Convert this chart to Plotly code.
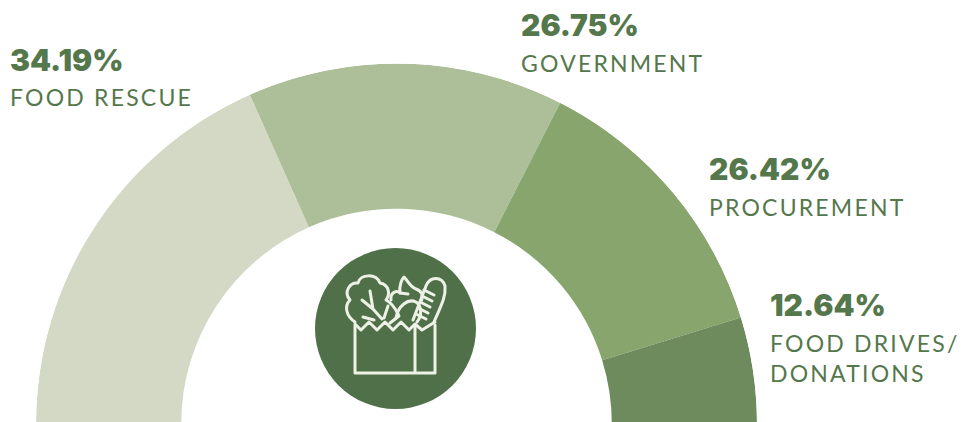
import base64
import plotly.graph_objects as go

# Labels printed on the chart
categories = ['FOOD RESCUE', 'GOVERNMENT', 'PROCUREMENT', 'FOOD DRIVES/<br>DONATIONS']
shares = ['34.19%', '26.75%', '26.42%', '12.64%']
arc_degrees = [66.0, 51.0, 45.8, 17.2]
colors = ['#d3d9c5', '#adbf98', '#88a56e', '#6d8b5d']

GREEN = '#55774c'
WIDTH, HEIGHT = 975, 424

# Running start of each band, then mid angle (polar angle runs from the right end)
starts = [sum(arc_degrees[:i]) for i in range(len(arc_degrees))]
theta = [180 - s - a / 2 for s, a in zip(starts, arc_degrees)]

fig = go.Figure(go.Barpolar(
    theta=theta,
    width=arc_degrees,
    r=[145] * len(arc_degrees),
    base=215,
    marker=dict(color=colors, line=dict(width=0)),
    hoverinfo='skip',
))

# Grocery bag icon
icon = '''<svg xmlns="http://www.w3.org/2000/svg" viewBox="0 0 190 190">
<circle cx="95.5" cy="88.5" r="80.5" fill="#4f7048"/>
<g fill="none" stroke="#eef2e6" stroke-width="3" stroke-linejoin="round" stroke-linecap="round">
<path d="M55 85 V133 H135 V85 M115 85 V133"/>
<path d="M55 84 L61 90 L69 82 L77 90 L85 82 L93 90 L101 82 L109 90 L115 84 L122 90 L135 82"/>
<path d="M55 82 C46 76 44 66 50 60 C43 52 50 42 58 43 C60 34 76 33 80 43 C90 45 90 55 86 60 C94 64 97 72 99 76 L90 83"/>
<path d="M62 60 L73 69 L82 79 M70 51 L73 69 M63 77 L74 80 M88 66 L84 78"/>
<path d="M91 60 C90 52 97 50 100 53 C99 45 102 39 104 37 C108 41 110 47 116 49 C122 51 124 56 121 61"/>
<path d="M100 53 L108 54 M96 78 C98 66 108 58 116 62 C122 66 122 76 117 82"/>
<path d="M113 80 L126 46 C130 36 142 36 145 46 C146 56 142 64 134 82"/>
<path d="M124 50 L134 55 M122 56 L132 61 M120 62 L130 67 M118 68 L128 73 M116 74 L126 79"/>
</g></svg>'''
icon_src = 'data:image/svg+xml;base64,' + base64.b64encode(icon.encode()).decode()

label_x = [8, 519, 707, 768]
share_y = [60, 25, 169, 305]
name_y = [97, 63, 207, 358]


def px(x):
    return x / WIDTH


def py(y):
    return 1 - y / HEIGHT


annotations = []
for i in range(len(categories)):
    annotations.append(dict(
        x=px(label_x[i]), y=py(share_y[i]), xref='paper', yref='paper',
        text=shares[i], showarrow=False, xanchor='left', yanchor='middle',
        font=dict(family='Inter', size=30, color=GREEN, weight=900),
    ))
    annotations.append(dict(
        x=px(label_x[i]), y=py(name_y[i]), xref='paper', yref='paper',
        text=categories[i], showarrow=False, xanchor='left', yanchor='middle', align='left',
        font=dict(family='Lato', size=23, color=GREEN),
    ))

fig.update_layout(
    width=WIDTH,
    height=HEIGHT,
    margin=dict(l=0, r=0, t=0, b=0),
    paper_bgcolor='white',
    showlegend=False,
    polar=dict(
        sector=[0, 180],
        bgcolor='rgba(0,0,0,0)',
        domain=dict(x=[px(36), px(757)], y=[0, py(63.5)]),
        radialaxis=dict(range=[0, 360], visible=False),
        angularaxis=dict(visible=False),
    ),
    images=[dict(source=icon_src, xref='paper', yref='paper', x=px(300), y=py(240),
                 sizex=px(190), sizey=190 / HEIGHT, xanchor='left', yanchor='top', layer='above')],
    annotations=annotations,
)

# page without margins, cut to the window; the labels are spaced out like the original
fig.write_html('out.html', config=dict(displayModeBar=False), post_script="""
document.documentElement.style.overflow='hidden';
document.body.style.margin='0';
document.body.style.overflow='hidden';
document.querySelectorAll('.annotation-text').forEach(function(t){
  if(t.textContent.indexOf('%')<0){t.style.letterSpacing='2.2px';}
});
""")
